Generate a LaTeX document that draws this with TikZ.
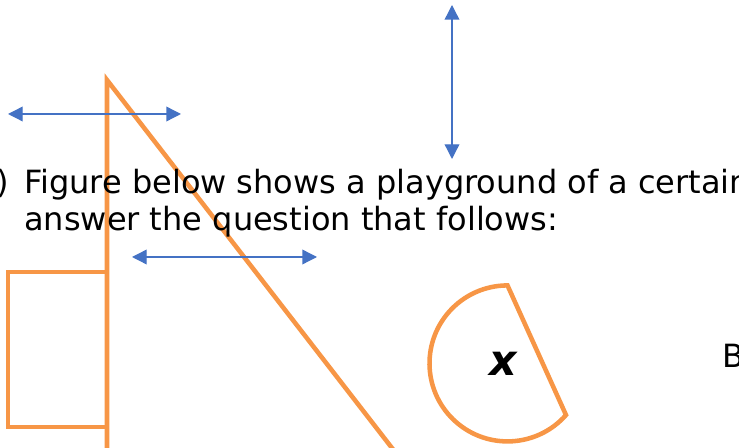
\documentclass[tikz,border=0pt]{standalone}
\usepackage{fontspec}
\setmainfont{DejaVu Sans}
\usetikzlibrary{arrows.meta}
\definecolor{shape}{HTML}{F79646}
\definecolor{dim}{HTML}{4472C4}
\tikzset{
  ground/.style={draw=shape, line width=3.4pt, line join=miter},
  span/.style={draw=dim, line width=1pt, {Triangle[length=11pt,width=11pt]}-{Triangle[length=11pt,width=11pt]}},
  line/.style={inner sep=0pt, anchor=base west, font=\fontsize{24}{29}\selectfont}
}
\begin{document}
\begin{tikzpicture}[x=0.75pt,y=-0.75pt]
\useasboundingbox (0,0) rectangle (739,448);
\clip (0,0) rectangle (739,448);
% playground shapes
\draw[ground] (8,272) rectangle (107,427);
\draw[ground] (107,470) -- (107,80) -- (409,470);
\coordinate (c) at (507,363);
\draw[ground] (566,415) arc[start angle=41.4, end angle=270, radius=78] -- cycle;
\node[inner sep=0pt, font=\fontsize{32}{38}\bfseries\itshape] (x) at (503,364) {x};
% dimension arrows
\foreach \a/\b/\p/\q in {8/114/181/114, 452/5/452/159, 132/257/317/257}{
  \coordinate (s) at (\a,\b);
  \coordinate (e) at (\p,\q);
  \draw[span] (s) -- (e);
}
% question text
\node[line] (num) at (-4,194) {)};
\node[line] (q1) at (24,194) {Figure below shows a playground of a certain};
\node[line] (q2) at (24,231) {answer the question that follows:};
\node[line] (b) at (722,368) {B};
\end{tikzpicture}
\end{document}
